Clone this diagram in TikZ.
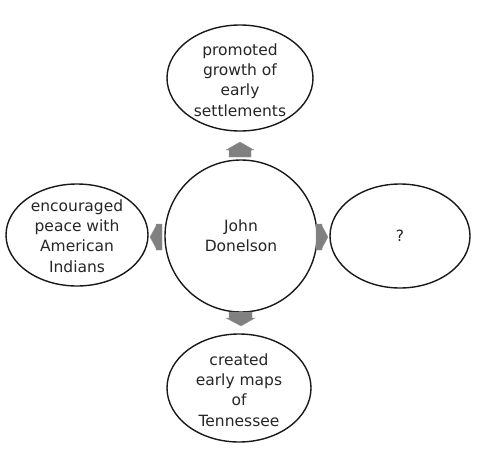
\documentclass[tikz,border=0pt]{standalone}
\usepackage{fontspec}
\setmainfont{DejaVu Sans}
\begin{document}
\begin{tikzpicture}[x=1pt,y=-1pt,
  bub/.style={draw=black!90,line width=1.4pt,fill=white},
  lbl/.style={align=center,font=\fontsize{15.5}{20.3}\selectfont,text=black!85},
  blk/.style={fill=black!50,draw=black!40,line width=0.4pt}]
\useasboundingbox (0,0) rectangle (477,464);
% bubbles
\draw[bub] (240,78) ellipse [x radius=73,y radius=53];
\draw[bub] (241,236) circle [radius=76];
\draw[bub] (77,235) ellipse [x radius=71,y radius=51];
\draw[bub] (400,236) ellipse [x radius=70,y radius=52];
\draw[bub] (239,388) ellipse [x radius=72,y radius=54];
% labels
\node[lbl] (top) at (240,80) {promoted\\growth of\\early\\settlements};
\node[lbl] (mid) at (241,236) {John\\Donelson};
\node[lbl] (left) at (77,236) {encouraged\\peace with\\American\\Indians};
\node[lbl] (right) at (400,236) {?};
\node[lbl] (bot) at (239,390) {created\\early maps\\of\\Tennessee};
% block arrows
\draw[blk] (229,157) -- (229,150) -- (226,150) -- (240,142) -- (254,150) -- (251,150) -- (251,157) -- cycle;
\draw[blk] (229,312) -- (229,318) -- (226,318) -- (241,326) -- (255,318) -- (252,318) -- (252,312) -- cycle;
\draw[blk] (162,224) -- (156,224) -- (156,226) -- (150,237) -- (156,248) -- (156,250) -- (162,250) -- cycle;
\draw[blk] (316,224) -- (322,224) -- (322,226) -- (328,237) -- (322,248) -- (322,250) -- (316,250) -- cycle;
\end{tikzpicture}
\end{document}
